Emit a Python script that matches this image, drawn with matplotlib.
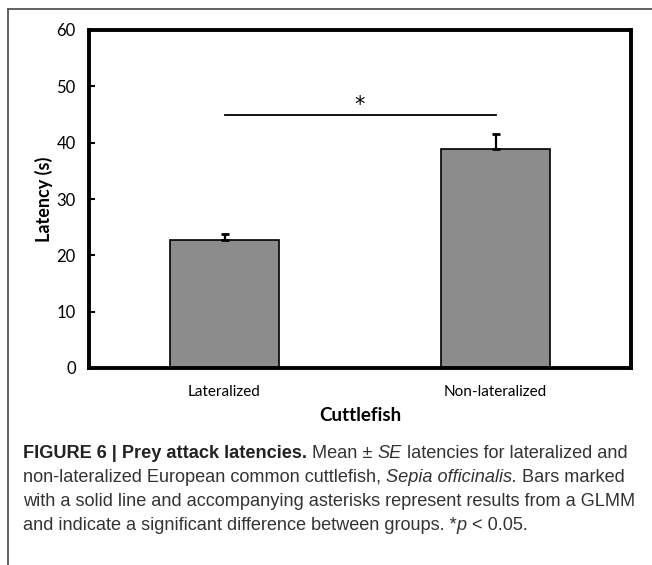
import matplotlib
matplotlib.use("Agg")
import matplotlib.pyplot as plt
from matplotlib.lines import Line2D

categories = ["Lateralized", "Non-lateralized"]
means = [22.8, 38.9]
se = [0.9, 2.7]
yticks = [0, 10, 20, 30, 40, 50, 60]
sig_y = 45
sig_label = "*"

W, H = 652, 565
fig = plt.figure(figsize=(W / 100, H / 100), dpi=100)

# outer frame (top and left edges)
fig.add_artist(Line2D([7.5 / W, 1.0], [1 - 8.5 / H] * 2, transform=fig.transFigure,
                      color="#555555", lw=1.3))
fig.add_artist(Line2D([7.5 / W] * 2, [1 - 8.5 / H, 0.0], transform=fig.transFigure,
                      color="#555555", lw=1.3))

plot_font = "Lato"
ax = fig.add_axes([89 / W, 1 - 368 / H, (631 - 89) / W, (368 - 30) / H])
x = list(range(len(categories)))
ax.bar(x, means, width=0.4, color="#8c8c8c", edgecolor="black", linewidth=1.2, zorder=2)
ax.errorbar(x, means, yerr=[[0] * len(se), se], fmt="none", ecolor="black",
            elinewidth=1.6, capsize=3, capthick=2, zorder=3)
ax.plot([x[0], x[1]], [sig_y, sig_y], color="black", lw=1.3)
ax.text(0.5, sig_y + 1.6, sig_label, ha="center", va="center", fontsize=15,
        family="DejaVu Sans")
ax.set_xlim(-0.5, 1.5)
ax.set_ylim(0, 60)
ax.set_yticks(yticks)
ax.set_yticklabels([str(t) for t in yticks], family=plot_font, fontsize=12)
ax.set_xticks(x)
ax.set_xticklabels(categories, family=plot_font, fontsize=11)
ax.tick_params(axis="y", direction="in", length=4, width=1.5, pad=9.5)
ax.tick_params(axis="x", length=0, pad=12)
for s in ax.spines.values():
    s.set_linewidth(2.8)
ax.set_ylabel("Latency (s)", family=plot_font, fontweight="bold", fontsize=13, labelpad=2.5)
ax.set_xlabel("Cuttlefish", family=plot_font, fontweight="bold", fontsize=13.5, labelpad=6)

# caption
cap_font = "Liberation Sans"
cap_size = 13.1
lines = [
    [("FIGURE 6 | Prey attack latencies.", "bold", "normal", "#222222"),
     (" Mean \u00b1 ", "normal", "normal", "#333333"),
     ("SE", "normal", "italic", "#333333"),
     (" latencies for lateralized and", "normal", "normal", "#333333")],
    [("non-lateralized European common cuttlefish, ", "normal", "normal", "#333333"),
     ("Sepia officinalis.", "normal", "italic", "#333333"),
     (" Bars marked", "normal", "normal", "#333333")],
    [("with a solid line and accompanying asterisks represent results from a GLMM", "normal", "normal", "#333333")],
    [("and indicate a significant difference between groups. *", "normal", "normal", "#333333"),
     ("p", "normal", "italic", "#333333"),
     (" < 0.05.", "normal", "normal", "#333333")],
]
line_y = [453, 478, 502, 526]
renderer = fig.canvas.get_renderer()
for segs, yy in zip(lines, line_y):
    xx = 23
    for txt, wt, st, col in segs:
        t = fig.text(xx / W, 1 - yy / H, txt, family=cap_font, fontsize=cap_size,
                     fontweight=wt, fontstyle=st, color=col, va="center", ha="left")
        bb = t.get_window_extent(renderer=renderer)
        xx += bb.width

fig.savefig("out.png", dpi=100)
